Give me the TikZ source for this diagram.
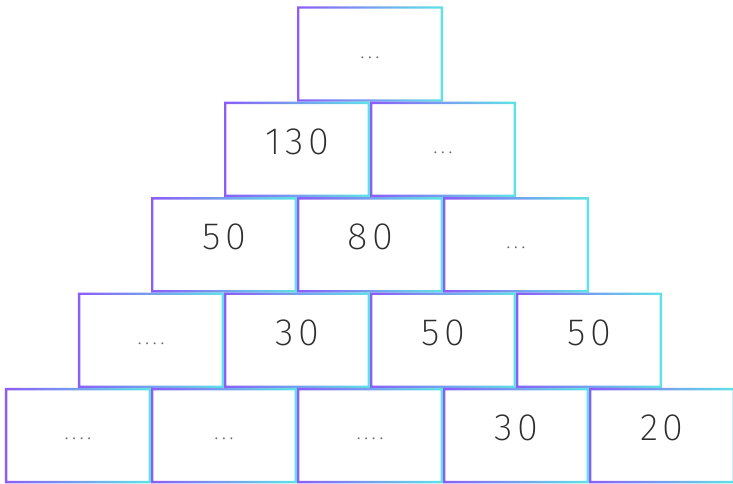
\documentclass[tikz,border=0pt]{standalone}
\usepackage{fontspec}
\setmainfont{Fira Sans ExtraLight}[LetterSpace=12]
\usepackage{tikz}
\definecolor{rimleft}{HTML}{8C5CF8}
\definecolor{rimright}{HTML}{5EE3E6}
\definecolor{numgray}{HTML}{2E2E2E}
\begin{document}
\begin{tikzpicture}[x=36.5pt,y=-47.7pt,
brick/.style={minimum width=73pt,minimum height=47.7pt,inner sep=0pt,outer sep=0pt,font=\fontsize{19}{21}\selectfont,text=numgray,text depth=8pt},
dots/.style={font=\fontsize{12}{14}\selectfont,text=numgray!70,text depth=0pt,text height=4pt},
rim/.style={left color=rimleft,right color=rimright,even odd rule}]
\useasboundingbox (-1.0685,-0.566) rectangle (8.9726,4.507);
% row 0
\node[brick,dots] (r0c0) at (4,0) {...};
% row 1
\node[brick] (r1c0) at (3,1) {130};
\node[brick,dots] (r1c1) at (5,1) {...};
% row 2
\node[brick] (r2c0) at (2,2) {50};
\node[brick] (r2c1) at (4,2) {80};
\node[brick,dots] (r2c2) at (6,2) {...};
% row 3
\node[brick,dots] (r3c0) at (1,3) {....};
\node[brick] (r3c1) at (3,3) {30};
\node[brick] (r3c2) at (5,3) {50};
\node[brick] (r3c3) at (7,3) {50};
% row 4
\node[brick,dots] (r4c0) at (0,4) {....};
\node[brick,dots] (r4c1) at (2,4) {...};
\node[brick,dots] (r4c2) at (4,4) {....};
\node[brick] (r4c3) at (6,4) {30};
\node[brick] (r4c4) at (8,4) {20};
% gradient frames
\foreach \b in {r0c0,r1c0,r1c1,r2c0,r2c1,r2c2,r3c0,r3c1,r3c2,r3c3,r4c0,r4c1,r4c2,r4c3,r4c4}
  \shade[rim] (\b.south west) rectangle (\b.north east)
    ([shift={(1.2pt,1.2pt)}]\b.south west) rectangle ([shift={(-1.2pt,-1.2pt)}]\b.north east);
\end{tikzpicture}
\end{document}
